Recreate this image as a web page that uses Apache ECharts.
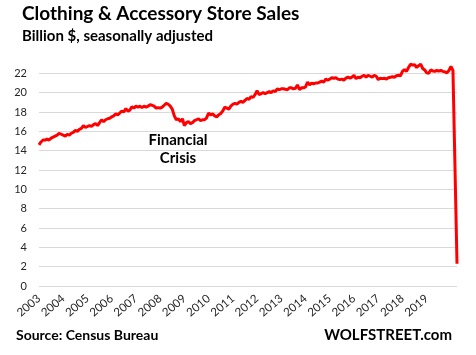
<!DOCTYPE html>
<html>
<head>
<meta charset="utf-8">
<script src="https://cdn.jsdelivr.net/npm/echarts@6/dist/echarts.min.js"></script>
<style>
html,body{margin:0;padding:0;background:#fff;}
#chart{width:476px;height:355px;}
</style>
</head>
<body>
<div id="chart"></div>
<script>
// Tick labels (years shown on the x axis)
const years = ['2003','2004','2005','2006','2007','2008','2009','2010','2011','2012','2013','2014','2015','2016','2017','2018','2019','2020'];
const months = ['01','02','03','04','05','06','07','08','09','10','11','12'];
// Monthly sales, billion $, Jan 2003 .. Apr 2020
const sales = [
  14.6,14.9,15.1,15.1,15.2,15.1,15.3,15.4,15.5,15.6,15.8,15.7,   // 2003
  15.6,15.5,15.7,15.6,15.8,15.9,16.1,16.0,16.2,16.3,16.6,16.4,   // 2004
  16.5,16.6,16.5,16.7,16.8,16.6,16.9,17.2,17.0,17.2,17.3,17.35,  // 2005
  17.5,17.6,17.8,17.7,17.9,18.1,18.0,18.35,18.1,18.2,18.55,18.4, // 2006
  18.6,18.5,18.6,18.45,18.6,18.5,18.6,18.75,18.7,18.6,18.4,18.45,// 2007
  18.4,18.5,18.7,18.9,18.8,18.6,18.3,17.6,17.2,17.3,17.0,17.3,   // 2008
  16.6,16.9,17.0,16.8,16.9,17.1,17.2,17.3,17.1,17.2,17.2,17.4,   // 2009
  17.9,17.7,17.8,17.6,17.5,17.7,17.85,18.1,18.5,18.4,18.3,18.6,  // 2010
  18.8,18.9,18.8,19.0,19.1,19.0,19.2,19.4,19.3,19.6,19.5,19.8,   // 2011
  20.2,19.8,19.9,20.0,19.9,20.0,20.1,20.0,20.2,20.1,20.4,20.3,   // 2012
  20.4,20.4,20.35,20.3,20.5,20.5,20.4,20.45,20.8,20.3,20.5,20.5, // 2013
  20.6,21.1,20.8,21.0,20.9,21.0,21.0,21.1,21.2,21.1,21.4,21.3,   // 2014
  21.4,21.55,21.5,21.55,21.4,21.35,21.4,21.3,21.5,21.6,21.5,21.6,// 2015
  21.8,21.45,21.6,21.55,21.7,21.8,21.6,21.8,21.7,21.6,21.8,21.7, // 2016
  21.35,21.5,21.45,21.5,21.4,21.55,21.6,21.65,21.6,21.75,21.8,21.75, // 2017
  22.2,22.4,22.2,22.6,22.95,22.85,22.9,22.6,22.8,22.95,22.5,22.35,   // 2018
  22.05,22.0,22.35,22.25,22.2,22.3,22.25,22.3,22.2,22.15,22.05,22.3, // 2019
  22.7,22.3,12.3,2.3                                              // 2020
];
const yTicks = [0,2,4,6,8,10,12,14,16,18,20,22];

const categories = [];
years.forEach(y => months.forEach(m => { if (categories.length < sales.length) categories.push(y + '-' + m); }));

const chart = echarts.init(document.getElementById('chart'), null, {renderer:'canvas'});
const gridColors = yTicks.map(() => '#d9d9d9').concat(['rgba(0,0,0,0)']);
const FONT = 'Lato';

chart.setOption({
  animation: false,
  backgroundColor: '#ffffff',
  grid: {left: 39, right: 19, top: 54, bottom: 69},
  xAxis: {
    type: 'category',
    data: categories,
    boundaryGap: false,
    axisLine: {show: false},
    axisTick: {show: false},
    splitLine: {show: false},
    axisLabel: {
      interval: (i) => i % 12 === 0 && i < 204,
      formatter: (v) => v.slice(0, 4),
      rotate: 40,
      margin: 11,
      fontFamily: FONT,
      fontSize: 11.5,
      color: '#262626'
    }
  },
  yAxis: {
    type: 'value',
    min: 0,
    max: 24,
    interval: 2,
    axisLine: {show: false},
    axisTick: {show: false},
    axisLabel: {showMaxLabel: false, margin: 12, fontFamily: FONT, fontSize: 11, color: '#262626'},
    splitLine: {lineStyle: {color: gridColors, width: 1}}
  },
  series: [{
    type: 'line',
    data: sales,
    symbol: 'none',
    lineStyle: {color: '#ff0000', width: 3},
    itemStyle: {color: '#ff0000'}
  }],
  graphic: [
    {type:'text', left: 22, top: 4, style:{text:'Clothing & Accessory Store Sales', font:'bold 19px Lato', fill:'#000'}},
    {type:'text', left: 22, top: 29, style:{text:'Billion $, seasonally adjusted', font:'bold 15px Lato', fill:'#000'}},
    {type:'text', x: 178, y: 131, style:{text:'Financial\nCrisis', font:'bold 15px Lato', fill:'#000', align:'center', lineHeight: 18}},
    {type:'text', left: 16, top: 328, style:{text:'Source: Census Bureau', font:'bold 14px Lato', fill:'#000'}},
    {type:'text', right: 24, top: 328, style:{text:'WOLFSTREET.com', font:'bold 15px Lato', fill:'#000'}}
  ]
});
</script>
</body>
</html>
